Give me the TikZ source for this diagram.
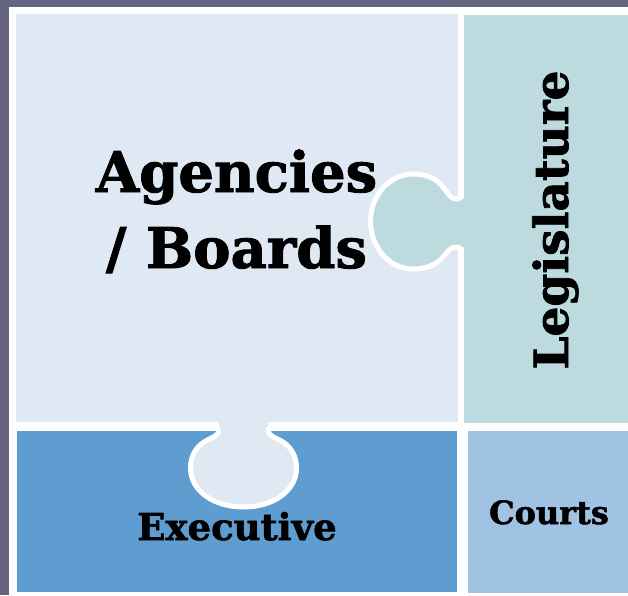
\documentclass[tikz,border=0pt]{standalone}
\usepackage{fontspec}
\setmainfont[BoldFeatures={FakeBold=1.6}]{DejaVu Serif}
\definecolor{bgdark}{HTML}{65657F}
\definecolor{agcol}{HTML}{DFE9F4}
\definecolor{legcol}{HTML}{BDDBDF}
\definecolor{excol}{HTML}{5F9DD1}
\definecolor{cocol}{HTML}{A0C3E3}
\begin{document}
\begin{tikzpicture}[x=1pt,y=-1pt,
  lbl/.style={text=black, inner sep=0pt},
  knobline/.style={draw=white, line width=5pt, line join=round, line cap=butt}
]
\useasboundingbox (0,0) rectangle (628,595);
\fill[bgdark] (0,0) rectangle (628,595);
\fill[white] (9,7) rectangle (628,595);
% panels
\fill[agcol] (16,14) rectangle (458,422);
\fill[legcol] (464,15) rectangle (628,423);
\fill[excol] (17,431) rectangle (457,592);
\fill[cocol] (468,431) rectangle (628,593);
% right knob (Legislature tab into Agencies)
\fill[legcol] (466,199) -- (456,199)
  .. controls (450,199) and (447.5,192) .. (443,187)
  .. controls (437,179) and (427,174) .. (413,174)
  .. controls (390,174) and (370.5,195) .. (370.5,221.5)
  .. controls (370.5,248) and (390,269) .. (413,269)
  .. controls (427,269) and (437,264) .. (443,257)
  .. controls (447.5,252) and (450,247) .. (456,247)
  -- (466,247) -- cycle;
\draw[knobline] (461,183) -- (461,194)
  .. controls (461,197.5) and (459.5,199) .. (456,199)
  .. controls (450,199) and (447.5,192) .. (443,187)
  .. controls (437,179) and (427,174) .. (413,174)
  .. controls (390,174) and (370.5,195) .. (370.5,221.5)
  .. controls (370.5,248) and (390,269) .. (413,269)
  .. controls (427,269) and (437,264) .. (443,257)
  .. controls (447.5,252) and (450,247) .. (456,247)
  .. controls (459.5,247) and (461,248.5) .. (461,252) -- (461,262);
% bottom knob (Agencies tab into Executive)
\fill[agcol] (218.5,420) -- (218.5,431.5)
  .. controls (218.5,436) and (211,437.5) .. (204,442)
  .. controls (195,448) and (190.5,457) .. (190.5,468)
  .. controls (190.5,491) and (214,507) .. (243.5,507)
  .. controls (273,507) and (296.5,491) .. (296.5,468)
  .. controls (296.5,457) and (292,448) .. (283,442)
  .. controls (276,437.5) and (268.5,436) .. (268.5,431.5)
  -- (268.5,420) -- cycle;
\draw[knobline] (204,426.5) -- (213.5,426.5)
  .. controls (217,426.5) and (218.5,428) .. (218.5,431.5)
  .. controls (218.5,436) and (211,437.5) .. (204,442)
  .. controls (195,448) and (190.5,457) .. (190.5,468)
  .. controls (190.5,491) and (214,507) .. (243.5,507)
  .. controls (273,507) and (296.5,491) .. (296.5,468)
  .. controls (296.5,457) and (292,448) .. (283,442)
  .. controls (276,437.5) and (268.5,436) .. (268.5,431.5)
  .. controls (268.5,428) and (270,426.5) .. (273.5,426.5) -- (283,426.5);
% labels
\node[lbl, font=\bfseries\fontsize{56}{60}\selectfont, anchor=base] (ag1) at (236.5,192) {Agencies};
\node[lbl, font=\bfseries\fontsize{56}{60}\selectfont, anchor=base] (ag2) at (236.5,268) {/ Boards};
\node[lbl, font=\bfseries\fontsize{37}{40}\selectfont, anchor=base] (ex) at (237,540) {Executive};
\node[lbl, font=\bfseries\fontsize{32}{36}\selectfont, anchor=base] (co) at (549,524) {Courts};
\node[lbl, font=\bfseries\fontsize{47}{52}\selectfont, rotate=90, anchor=base] (le) at (568,220) {Legislature};
\end{tikzpicture}
\end{document}
